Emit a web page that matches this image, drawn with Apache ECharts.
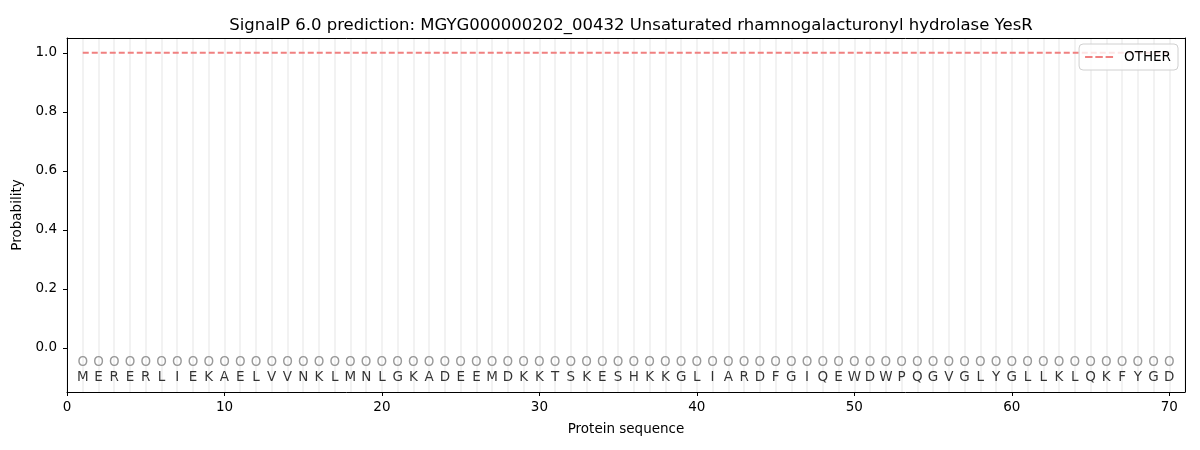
<!DOCTYPE html>
<html>
<head>
<meta charset="utf-8">
<script src="https://cdn.jsdelivr.net/npm/echarts@6/dist/echarts.min.js"></script>
<style>html,body{margin:0;padding:0;background:#fff}#c{width:1200px;height:450px}</style>
</head>
<body>
<div id="c"></div>
<script>
const titleText = 'SignalP 6.0 prediction: MGYG000000202_00432 Unsaturated rhamnogalacturonyl hydrolase YesR';
const residues = 'M E R E R L I E K A E L V V N K L M N L G K A D E E M D K K T S K E S H K K G L I A R D F G I Q E W D W P Q G V G L Y G L L K L Q K F Y G D'.split(' ');
const positions = residues.map((_, i) => i + 1);
const probOther = positions.map(() => 1.0);
const predLabels = positions.map(() => 'O');
const xTicks = [0, 10, 20, 30, 40, 50, 60, 70];
const yTicks = [0, 0.2, 0.4, 0.6, 0.8, 1.0];

const font = 'DejaVu Sans';
const chart = echarts.init(document.getElementById('c'));
chart.setOption({
  animation: false,
  backgroundColor: '#fff',
  textStyle: { fontFamily: font },
  title: {
    text: titleText, left: 626, top: 12, textAlign: 'center',
    textStyle: { fontFamily: font, fontSize: 16.5, fontWeight: 'normal', color: '#000' }
  },
  legend: {
    right: 22, top: 44, orient: 'vertical',
    borderColor: '#d0d0d0', borderWidth: 1, borderRadius: 4,
    padding: [6, 7, 6, 6], itemWidth: 28, itemHeight: 2, itemGap: 8,
    backgroundColor: 'rgba(255,255,255,0.8)',
    textStyle: { fontFamily: font, fontSize: 13.5, color: '#000', padding: [0, 0, 0, 6] },
    data: [{ name: 'OTHER', icon: 'path://M0,0H8V2H0Z M11,0H19V2H11Z M22,0H30V2H22Z', itemStyle: { color: '#f08080' } }]
  },
  grid: { left: 67, right: 15, top: 38, bottom: 58, show: false },
  xAxis: [{
    type: 'value', min: 0, max: 71, interval: 10,
    name: 'Protein sequence', nameLocation: 'middle', nameGap: 30,
    nameTextStyle: { fontFamily: font, fontSize: 13.5, color: '#000' },
    axisLine: { show: true, onZero: false, lineStyle: { color: '#000' } },
    axisTick: { show: true, length: 4, lineStyle: { color: '#000' }, customValues: xTicks },
    axisLabel: { fontFamily: font, fontSize: 13.5, color: '#000', margin: 8, customValues: xTicks },
    splitLine: { show: false }
  }, {
    type: 'value', min: 0, max: 71, interval: 1, position: 'top',
    axisLine: { show: true, onZero: false, lineStyle: { color: '#000' } }, axisTick: { show: false }, axisLabel: { show: false },
    splitLine: { show: true, lineStyle: { color: '#f2f2f2', width: 2 } }
  }],
  yAxis: [{
    type: 'value', min: -0.15, max: 1.05,
    name: 'Probability', nameLocation: 'middle', nameGap: 37,
    nameTextStyle: { fontFamily: font, fontSize: 13.5, color: '#000' },
    axisLine: { show: true, onZero: false, lineStyle: { color: '#000' } },
    axisTick: { show: true, length: 4, lineStyle: { color: '#000' }, customValues: yTicks },
    axisLabel: { fontFamily: font, fontSize: 13.5, color: '#000', margin: 10, customValues: yTicks, formatter: v => v.toFixed(1) },
    splitLine: { show: false }
  }, {
    type: 'value', min: -0.15, max: 1.05, position: 'right',
    axisLine: { show: true, onZero: false, lineStyle: { color: '#000' } },
    axisTick: { show: false }, axisLabel: { show: false }, splitLine: { show: false }
  }],
  series: [{
    name: 'OTHER', type: 'line', xAxisIndex: 0, yAxisIndex: 0,
    data: positions.map((p, i) => [p, probOther[i]]),
    symbol: 'none',
    lineStyle: { color: '#f08080', width: 2, type: [6, 3] },
    itemStyle: { color: '#f08080' },
    z: 3
  }, {
    name: 'pred', type: 'scatter', xAxisIndex: 0, yAxisIndex: 0,
    data: positions.map((p, i) => ({ value: [p, -0.05], label: { formatter: predLabels[i] } })),
    symbolSize: 0, silent: true,
    label: { show: true, position: 'inside', fontFamily: font, fontSize: 13.5, color: '#808080' }
  }, {
    name: 'seq', type: 'scatter', xAxisIndex: 0, yAxisIndex: 0,
    data: positions.map((p, i) => ({ value: [p, -0.1], label: { formatter: residues[i] } })),
    symbolSize: 0, silent: true,
    label: { show: true, position: 'inside', fontFamily: font, fontSize: 13.5, color: '#000' }
  }]
});
</script>
</body>
</html>
